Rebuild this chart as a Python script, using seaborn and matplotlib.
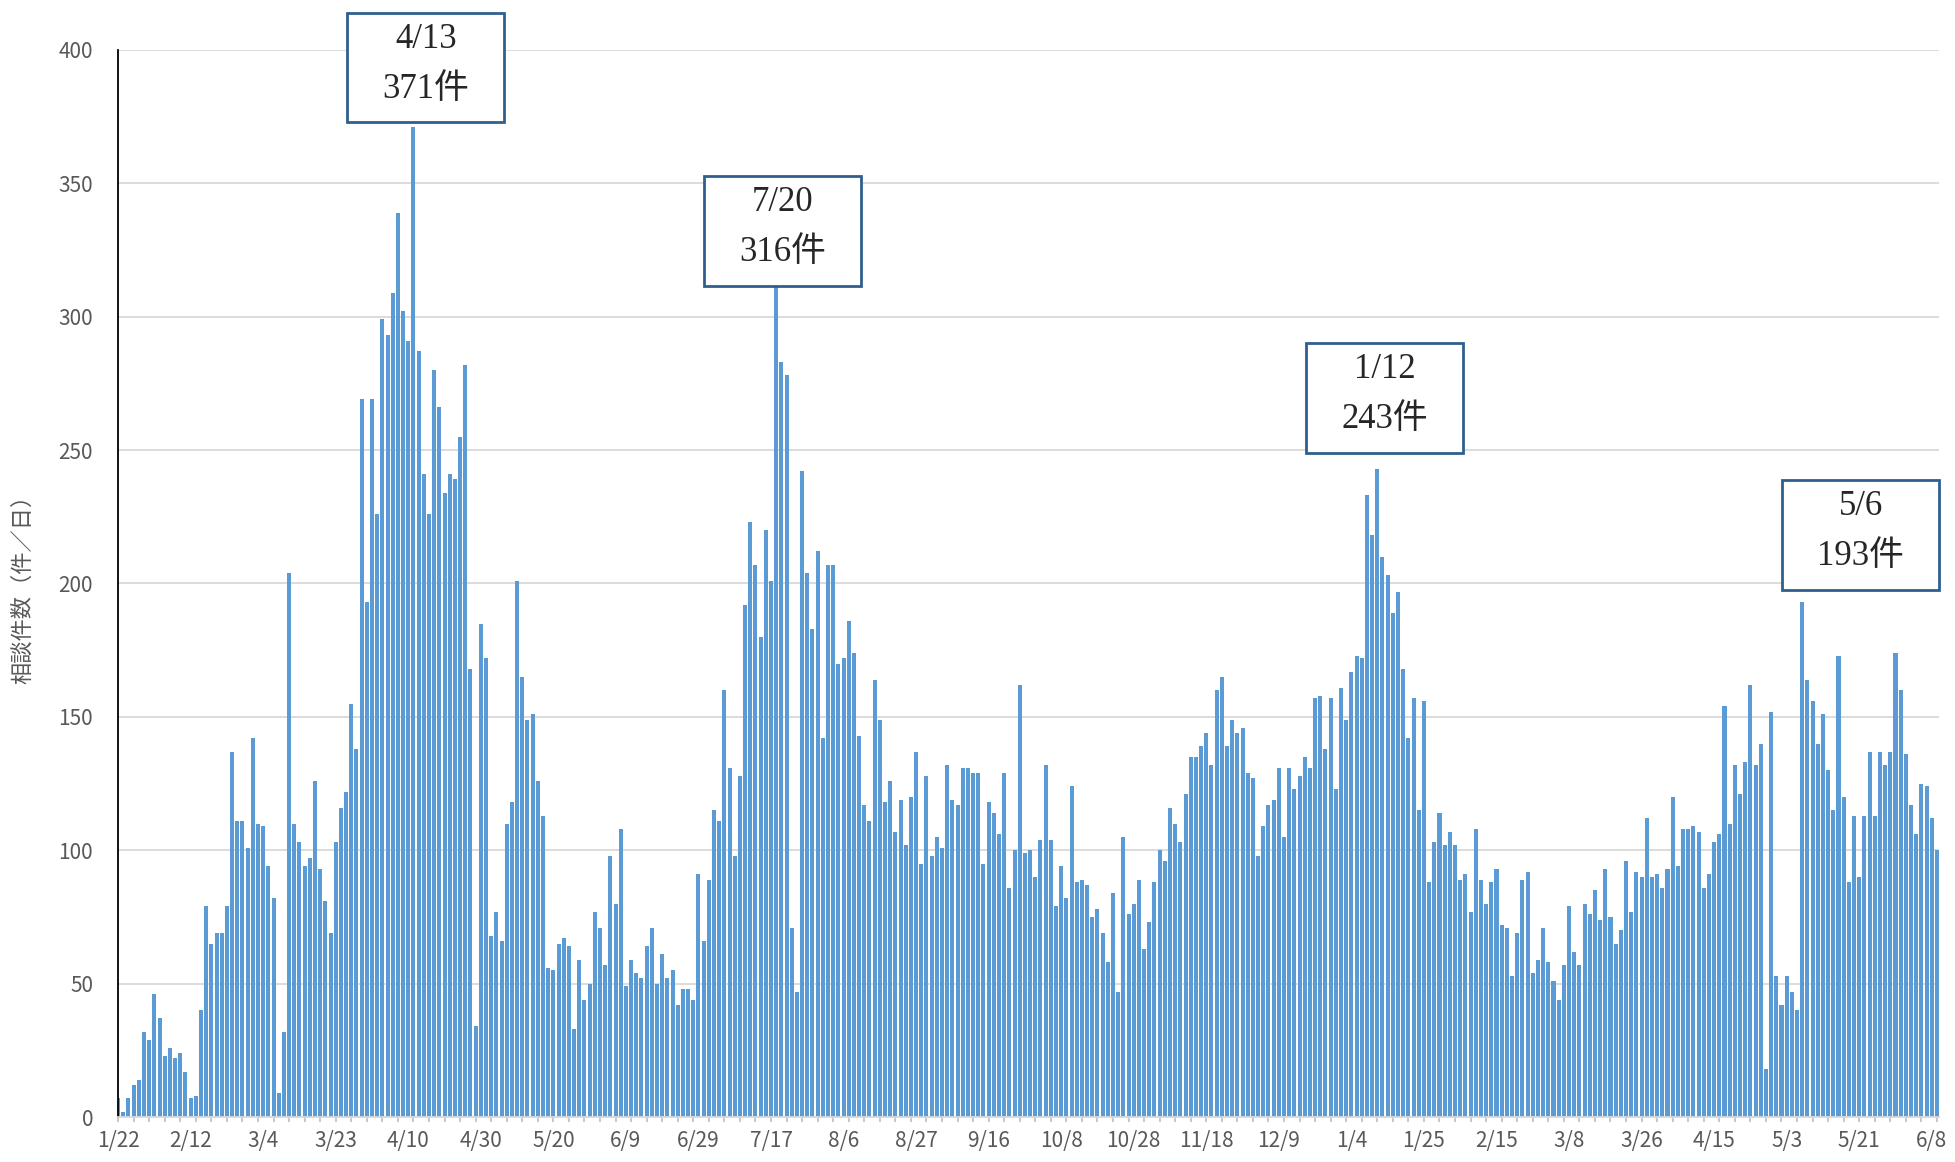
import numpy as np
import pandas as pd
import matplotlib
matplotlib.use('Agg')
import matplotlib.pyplot as plt
import matplotlib.patches as mpatches
import seaborn as sns

### daily consultation counts (business days, 1/22 -> 6/8) ###
counts = [7, 2, 7, 12, 14, 32, 29, 46, 37, 23, 26, 22, 24, 17, 7, 8, 40, 79, 65, 69, 69, 79, 137, 111, 111, 101, 142, 110, 109, 94,
          82, 9, 32, 204, 110, 103, 94, 97, 126, 93, 81, 69, 103, 116, 122, 155, 138, 269, 193, 269, 226, 299, 293, 309, 339, 302, 291, 371, 287, 241,
          226, 280, 266, 234, 241, 239, 255, 282, 168, 34, 185, 172, 68, 77, 66, 110, 118, 201, 165, 149, 151, 126, 113, 56, 55, 65, 67, 64, 33, 59,
          44, 50, 77, 71, 57, 98, 80, 108, 49, 59, 54, 52, 64, 71, 50, 61, 52, 55, 42, 48, 48, 44, 91, 66, 89, 115, 111, 160, 131, 98,
          128, 192, 223, 207, 180, 220, 201, 316, 283, 278, 71, 47, 242, 204, 183, 212, 142, 207, 207, 170, 172, 186, 174, 143, 117, 111, 164, 149, 118, 126,
          107, 119, 102, 120, 137, 95, 128, 98, 105, 101, 132, 119, 117, 131, 131, 129, 129, 95, 118, 114, 106, 129, 86, 100, 162, 99, 100, 90, 104, 132,
          104, 79, 94, 82, 124, 88, 89, 87, 75, 78, 69, 58, 84, 47, 105, 76, 80, 89, 63, 73, 88, 100, 96, 116, 110, 103, 121, 135, 135, 139,
          144, 132, 160, 165, 139, 149, 144, 146, 129, 127, 98, 109, 117, 119, 131, 105, 131, 123, 128, 135, 131, 157, 158, 138, 157, 123, 161, 149, 167, 173,
          172, 233, 218, 243, 210, 203, 189, 197, 168, 142, 157, 115, 156, 88, 103, 114, 102, 107, 102, 89, 91, 77, 108, 89, 80, 88, 93, 72, 71, 53,
          69, 89, 92, 54, 59, 71, 58, 51, 44, 57, 79, 62, 57, 80, 76, 85, 74, 93, 75, 65, 70, 96, 77, 92, 90, 112, 90, 91, 86, 93,
          120, 94, 108, 108, 109, 107, 86, 91, 103, 106, 154, 110, 132, 121, 133, 162, 132, 140, 18, 152, 53, 42, 53, 47, 40, 193, 164, 156, 140, 151,
          130, 115, 173, 120, 88, 113, 90, 113, 137, 113, 137, 132, 137, 174, 160, 136, 117, 106, 125, 124, 112, 100]

tick_labels = ['1/22', '2/12', '3/4', '3/23', '4/10', '4/30', '5/20', '6/9', '6/29', '7/17', '8/6', '8/27', '9/16',
               '10/8', '10/28', '11/18', '12/9', '1/4', '1/25', '2/15', '3/8', '3/26', '4/15', '5/3', '5/21', '6/8']
label_step = 14
mark_step = 3

### peaks to call out ###
peak_idx = [57, 127, 243, 325]
peak_dates = ['4/13', '7/20', '1/12', '5/6']

df = pd.DataFrame({'day': np.arange(len(counts)), 'count': counts})
n = len(counts)

sns.set_theme(style='white')
plt.rcParams['font.family'] = ['Noto Sans CJK JP', 'DejaVu Sans']
serif = ['Liberation Serif', 'Noto Sans CJK JP']

fig = plt.figure(figsize=(19.55, 11.62), dpi=100)
ax = fig.add_axes([0.0604, 0.0387, 0.9314, 0.9183])

sns.barplot(data=df, x='day', y='count', color='#5B9BD5', saturation=1, width=0.78,
            errorbar=None, linewidth=0, edgecolor='none', ax=ax)

# y axis
ax.set_ylim(0, 400)
ax.set_yticks(range(0, 401, 50))
ax.tick_params(axis='y', direction='in', length=6, width=1.2, color='black',
               labelsize=15, labelcolor='#595959', pad=18)
ax.yaxis.grid(True, color='#D9D9D9', linewidth=1.3)
ax.set_axisbelow(True)
ax.set_ylabel('相談件数（件／日）', fontsize=16, color='#595959')
ax.yaxis.set_label_coords(-0.046, 0.5)

# x axis: labels every 14 days, small marks every 3
ax.set_xlim(0, n - 1 + 0.39)
ax.xaxis.remove_overlapping_locs = False
ax.set_xticks(np.arange(0, n, label_step))
ax.set_xticklabels(tick_labels)
ax.set_xticks(np.arange(0, n, mark_step), minor=True)
ax.tick_params(axis='x', which='major', length=0, labelsize=15, labelcolor='#595959', pad=9)
ax.tick_params(axis='x', which='minor', direction='out', length=3.5, width=1.2, color='#BFBFBF', bottom=True)
ax.set_xlabel('')

for s in ['top', 'right']:
    ax.spines[s].set_visible(False)
ax.spines['left'].set_color('black')
ax.spines['left'].set_linewidth(1.3)
ax.spines['bottom'].set_color('#D9D9D9')
ax.spines['bottom'].set_linewidth(1.3)

### call-out boxes ###
box_w = 30.3
box_h = 41
box_dx = [2.4, 1.2, 1.4, 11.3]
box_dy = [1.9, -4.3, 6, 4.7]
for d, i, dx, dy in zip(peak_dates, peak_idx, box_dx, box_dy):
    v = counts[i]
    xc = i + dx
    yb = v + dy
    ax.add_patch(mpatches.Rectangle((xc - box_w / 2, yb), box_w, box_h, facecolor='white',
                                    edgecolor='#2F5F8F', linewidth=2, clip_on=False, zorder=5))
    ax.text(xc, yb + box_h * 0.76, d, ha='center', va='center', fontsize=25,
            family=serif, zorder=6, clip_on=False)
    ax.text(xc, yb + box_h * 0.30, f'{v}件', ha='center', va='center', fontsize=25,
            family=serif, zorder=6, clip_on=False)

fig.savefig('out.png', dpi=100)
